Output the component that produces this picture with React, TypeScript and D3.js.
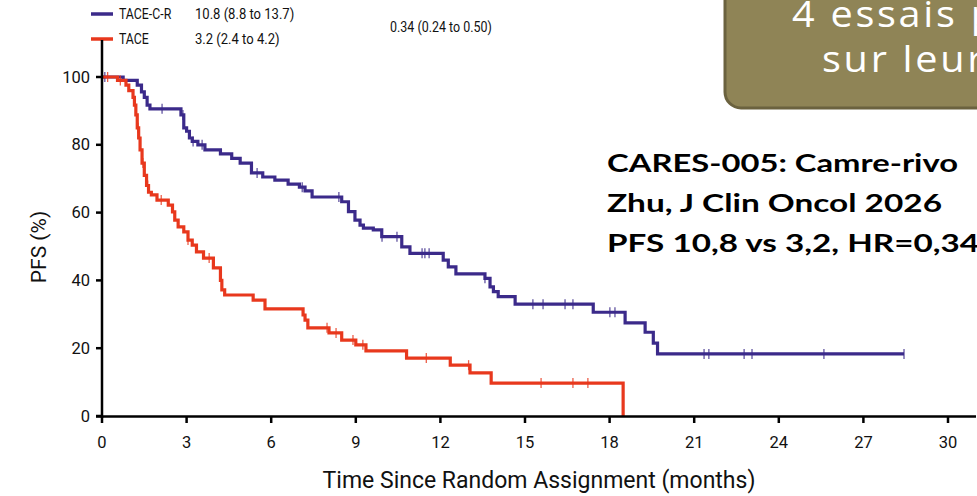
import React from "react";
import * as d3 from "d3";

// Kaplan–Meier steps: event time (months) and PFS (%) after the event
const crTime = [0, 0.75, 1.25, 1.4, 1.5, 1.6, 1.7, 2.8, 2.9, 3.0, 3.1, 3.2, 3.4, 3.65, 4.2, 4.6, 4.9, 5.3, 5.7, 6.13, 6.6, 7.0, 7.2, 7.45, 8.5, 8.74, 8.97, 9.15, 9.27, 9.62, 9.92, 10.63, 10.92, 12.1, 12.28, 12.55, 13.58, 13.76, 13.88, 14.05, 14.65, 17.42, 18.55, 19.26, 19.55, 19.7];
const crSurv = [100, 99, 97.6, 95.6, 94, 91.7, 90.6, 88.8, 85, 84, 82, 81, 80, 78.5, 77.3, 76, 74.6, 71.7, 70.5, 69.6, 68.4, 67.5, 66.4, 64.6, 63.2, 60.3, 57.8, 56.3, 55.4, 54.9, 52.9, 49.9, 48.0, 46.0, 44.0, 41.9, 40.6, 38.1, 36.7, 35.2, 33.0, 30.6, 27.5, 24.7, 21.5, 18.3];
const crCensor = [0.1, 2.13, 2.87, 3.23, 3.55, 5.5, 7.1, 8.4, 9.93, 10.46, 11.35, 11.45, 11.6, 13.58, 15.28, 15.64, 16.42, 16.7, 18.01, 18.19, 21.35, 21.52, 22.77, 23.05, 25.6, 28.44];

const taceTime = [0, 0.55, 0.85, 0.95, 1.1, 1.15, 1.2, 1.25, 1.3, 1.35, 1.42, 1.5, 1.58, 1.65, 1.75, 1.95, 2.35, 2.5, 2.58, 2.7, 2.9, 3.05, 3.2, 3.35, 3.6, 3.95, 4.2, 4.25, 4.35, 5.36, 5.78, 7.13, 7.2, 7.3, 8.05, 8.5, 9.0, 9.36, 10.8, 12.35, 13.05, 13.8, 18.48];
const taceSurv = [100, 99, 97.6, 96, 94, 91.7, 88.8, 85, 82, 78.5, 74.6, 71, 68, 66, 65.2, 63.7, 62.2, 60.2, 57.8, 55.8, 54.3, 51.9, 50.4, 48.4, 46.6, 43.7, 40, 37.2, 35.7, 34.2, 31.6, 29.8, 28.3, 26.0, 24.5, 22.4, 21.0, 19.2, 17.1, 15.0, 12.7, 9.7, 0];
const taceCensor = [0.2, 0.65, 1.28, 1.45, 1.62, 2.1, 3.05, 3.8, 7.98, 8.3, 8.9, 9.25, 11.5, 13.0, 15.57, 16.7, 17.23];

const xTicks = [0, 3, 6, 9, 12, 15, 18, 21, 24, 27, 30];
const yTicks = [0, 20, 40, 60, 80, 100];

const legendNames = ["TACE-C-R", "TACE"];
const legendMedians = ["10.8 (8.8 to 13.7)", "3.2 (2.4 to 4.2)"];
const hazardRatio = "0.34 (0.24 to 0.50)";
const noteLines = ["CARES-005: Camre-rivo", "Zhu, J Clin Oncol 2026", "PFS 10,8 vs 3,2, HR=0,34"];
const bannerLines = ["4 essais p", "sur leur"];

const PURPLE = "#3b2a8a";
const RED = "#e8381d";
const SANS = "Roboto, 'Liberation Sans', sans-serif";

const W = 977;
const H = 496;

const x = d3.scaleLinear().domain([0, 30]).range([102, 948]);
const y = d3.scaleLinear().domain([0, 100]).range([416, 77]);

function survAt(times: number[], surv: number[], t: number) {
  let s = surv[0];
  for (let i = 0; i < times.length; i++) if (times[i] <= t) s = surv[i];
  return s;
}

function stepPath(times: number[], surv: number[], endT: number) {
  const pts: [number, number][] = times.map((t, i) => [t, surv[i]]);
  if (endT > times[times.length - 1]) pts.push([endT, surv[surv.length - 1]]);
  const line = d3
    .line<[number, number]>()
    .x((d) => x(d[0]))
    .y((d) => y(d[1]))
    .curve(d3.curveStepAfter);
  return line(pts) || "";
}

function Curve({ times, surv, censor, color, endT }: { times: number[]; surv: number[]; censor: number[]; color: string; endT: number }) {
  return (
    <g>
      <path d={stepPath(times, surv, endT)} fill="none" stroke={color} strokeWidth={3.2} strokeLinejoin="miter" />
      {censor.map((t, i) => {
        const cx = x(t);
        const cy = y(survAt(times, surv, t));
        return <line key={i} x1={cx} x2={cx} y1={cy - 5} y2={cy + 5} stroke={color} strokeWidth={1.3} opacity={0.8} />;
      })}
    </g>
  );
}

// condensed label: horizontally squeezed text anchored at its start
function Narrow({ x0, y0, k, size, children }: { x0: number; y0: number; k: number; size: number; children: React.ReactNode }) {
  return (
    <text transform={`translate(${x0},${y0}) scale(${k},1)`} fontFamily={SANS} fontSize={size} fill="#111">
      {children}
    </text>
  );
}

export default function App() {
  return (
    <svg width={W} height={H} style={{ position: "absolute", left: 0, top: 0, background: "#fff" }}>
      {/* banner box, top right */}
      <rect x={725} y={-40} width={300} height={148} rx={16} fill="#8f8456" stroke="#6b623f" strokeWidth={3} />
      {bannerLines.map((s, i) => (
        <text
          key={i}
          transform={`translate(${i === 0 ? 792 : 822},${27 + i * 45}) scale(1.1,1)`}
          fill="#fff"
          fontFamily="'Open Sans', sans-serif"
          fontSize={36}
          letterSpacing={2.5}
        >
          {s}
        </text>
      ))}

      {/* legend */}
      {legendNames.map((name, i) => {
        const ly = 14 + i * 25;
        const c = i === 0 ? PURPLE : RED;
        return (
          <g key={name}>
            <line x1={91} x2={113} y1={ly} y2={ly} stroke={c} strokeWidth={3.5} />
            <Narrow x0={119} y0={ly + 5} k={0.85} size={14.5}>
              {name}
            </Narrow>
            <Narrow x0={195} y0={ly + 5} k={0.9} size={14.5}>
              {legendMedians[i]}
            </Narrow>
          </g>
        );
      })}
      <Narrow x0={390} y0={32} k={0.86} size={14.5}>
        {hazardRatio}
      </Narrow>

      {/* curves */}
      <Curve times={crTime} surv={crSurv} censor={crCensor} color={PURPLE} endT={28.44} />
      <Curve times={taceTime} surv={taceSurv} censor={taceCensor} color={RED} endT={18.48} />

      {/* axes */}
      <line x1={102} x2={102} y1={40} y2={418} stroke="#000" strokeWidth={2.5} />
      <line x1={96} x2={976} y1={416.5} y2={416.5} stroke="#000" strokeWidth={2.5} />
      {yTicks.map((v) => (
        <g key={v}>
          <line x1={96} x2={102} y1={y(v)} y2={y(v)} stroke="#000" strokeWidth={2.5} />
          <text x={90} y={y(v) + 5.5} textAnchor="end" fontFamily={SANS} fontSize={16.5} fill="#111">
            {v}
          </text>
        </g>
      ))}
      {xTicks.map((t) => (
        <g key={t}>
          <line x1={x(t)} x2={x(t)} y1={416} y2={423} stroke="#000" strokeWidth={2.5} />
          <text x={x(t)} y={448} textAnchor="middle" fontFamily={SANS} fontSize={16.5} fill="#111">
            {t}
          </text>
        </g>
      ))}
      <text transform="translate(46,247) rotate(-90)" textAnchor="middle" fontFamily={SANS} fontSize={21} fill="#111">
        PFS (%)
      </text>
      <text x={539} y={488} textAnchor="middle" fontFamily={SANS} fontSize={23} fill="#111">
        Time Since Random Assignment (months)
      </text>

      {/* study note */}
      {noteLines.map((s, i) => (
        <text
          key={i}
          x={607}
          y={172 + i * 40}
          fontFamily="Lato, 'Open Sans', sans-serif"
          fontWeight={700}
          fontSize={24.5}
          fill="#000"
          textLength={[351, 335, 372][i]}
          lengthAdjust="spacingAndGlyphs"
        >
          {s}
        </text>
      ))}
    </svg>
  );
}
